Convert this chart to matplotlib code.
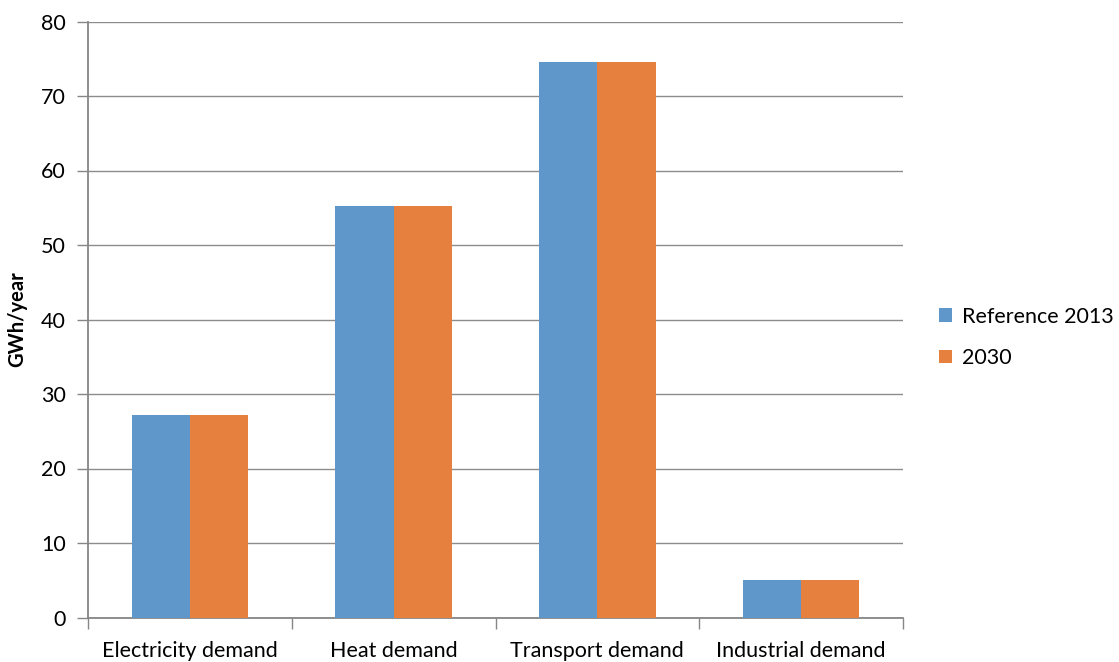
import numpy as np
import matplotlib
matplotlib.use('Agg')
import matplotlib.pyplot as plt

categories = ['Electricity demand', 'Heat demand', 'Transport demand', 'Industrial demand']
ref_2013 = [27.2, 55.2, 74.6, 5.0]
year_2030 = [27.2, 55.2, 74.6, 5.0]
series_names = ['Reference 2013', '2030']

plt.rcParams['font.family'] = ['Lato', 'DejaVu Sans']

fig = plt.figure(figsize=(11.19, 6.62), dpi=100)
ax = fig.add_axes([88 / 1119, 44.5 / 662, 815 / 1119, 596 / 662])

x = np.arange(len(categories))
w = 0.286
ax.bar(x - w / 2, ref_2013, w, color='#5F97CA', label=series_names[0], zorder=3)
ax.bar(x + w / 2, year_2030, w, color='#E6803F', label=series_names[1], zorder=3)

ax.set_xlim(-0.5, len(categories) - 0.5)
ax.set_ylim(0, 80)
ax.set_yticks(range(0, 81, 10))
ax.yaxis.grid(True, color='#8C8C8C', linewidth=1, zorder=0)

ax.set_xticks(x)
ax.set_xticklabels(categories, fontsize=15.5)
ax.set_xticks(np.arange(-0.5, len(categories)), minor=True)
ax.tick_params(axis='x', which='major', length=0, pad=17)
ax.tick_params(axis='x', which='minor', length=8, color='#868686', width=1)
ax.tick_params(axis='y', length=8, color='#868686', width=1, labelsize=15.5, pad=8)

for s in ['top', 'right']:
    ax.spines[s].set_visible(False)
for s in ['left', 'bottom']:
    ax.spines[s].set_color('#868686')
    ax.spines[s].set_linewidth(1.3)

ax.set_ylabel('GWh/year', fontsize=14.5, fontweight='bold', labelpad=10)

ax.legend(loc='center left', bbox_to_anchor=(1.034, 0.47), frameon=False,
          fontsize=15.5, handlelength=0.6, handleheight=0.6, handletextpad=0.45,
          labelspacing=1.0, borderaxespad=0)

fig.savefig('out.png', dpi=100)
